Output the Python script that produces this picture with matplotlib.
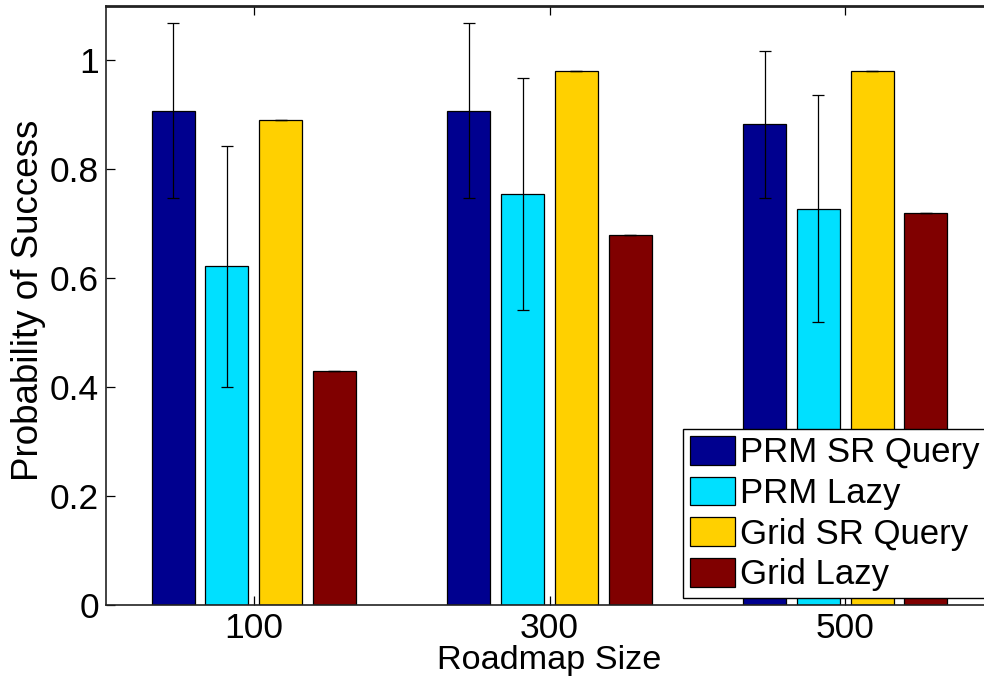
import numpy as np
import matplotlib.pyplot as plt

plt.rcParams['font.family'] = ['Liberation Sans', 'DejaVu Sans']

sizes = ['100', '300', '500']
names = ['PRM SR Query', 'PRM Lazy', 'Grid SR Query', 'Grid Lazy']
colors = ['#00008F', '#00E0FF', '#FFD000', '#800000']

prm_sr = [0.908, 0.908, 0.883]
prm_sr_err = [0.160, 0.160, 0.135]
prm_lazy = [0.622, 0.755, 0.728]
prm_lazy_err = [0.221, 0.213, 0.209]
grid_sr = [0.89, 0.98, 0.98]
grid_sr_err = [0.0, 0.0, 0.0]
grid_lazy = [0.43, 0.68, 0.72]
grid_lazy_err = [0.0, 0.0, 0.0]

means = [prm_sr, prm_lazy, grid_sr, grid_lazy]
errs = [prm_sr_err, prm_lazy_err, grid_sr_err, grid_lazy_err]

fig = plt.figure(figsize=(9.84, 6.82), dpi=100)
ax = fig.add_axes([106/984, 1 - 605/682, (993-106)/984, (605-6)/682])

x = np.arange(1, len(sizes) + 1)
n = len(names)
gw = min(0.8, n / (n + 1.5))
bw = gw / n * 0.8
for i in range(n):
    off = -gw/2 + (2*i + 1) * gw / (2*n)
    ax.bar(x + off, means[i], bw, color=colors[i], edgecolor='black',
           linewidth=0.9, label=names[i], zorder=2)
    ax.errorbar(x + off, means[i], yerr=errs[i], fmt='none', ecolor='black',
                elinewidth=0.9, capsize=4.5, capthick=0.9, zorder=3)

ax.set_xlim(0.5, 3.5)
ax.set_ylim(0, 1.1)
ax.set_xticks(x)
ax.set_xticklabels(sizes)
ax.set_yticks([0, 0.2, 0.4, 0.6, 0.8, 1.0])
ax.set_yticklabels(['0', '0.2', '0.4', '0.6', '0.8', '1'])
ax.tick_params(direction='in', length=6.5, width=0.9, labelsize=25.5,
               top=True, right=True, pad=5)
for s in ax.spines.values():
    s.set_linewidth(1.2)
    s.set_color('#222222')
ax.spines['top'].set_linewidth(2)

ax.set_xlabel('Roadmap Size', fontsize=24.7, labelpad=0)
ax.set_ylabel('Probability of Success', fontsize=26.5)
ax.yaxis.set_label_coords(-0.068, 0.509)

# legend box runs off the right edge of the figure
ax.legend(loc='upper left', mode='expand',
          bbox_to_anchor=(683/984, 1 - 597/682, 330/984, 168/682),
          bbox_transform=fig.transFigure, fontsize=25, frameon=True,
          fancybox=False, edgecolor='black', framealpha=1,
          handlelength=1.3, handleheight=0.9, handletextpad=0.15,
          labelspacing=0.21, borderpad=0.2, borderaxespad=0)

fig.savefig('out.png', dpi=100)
